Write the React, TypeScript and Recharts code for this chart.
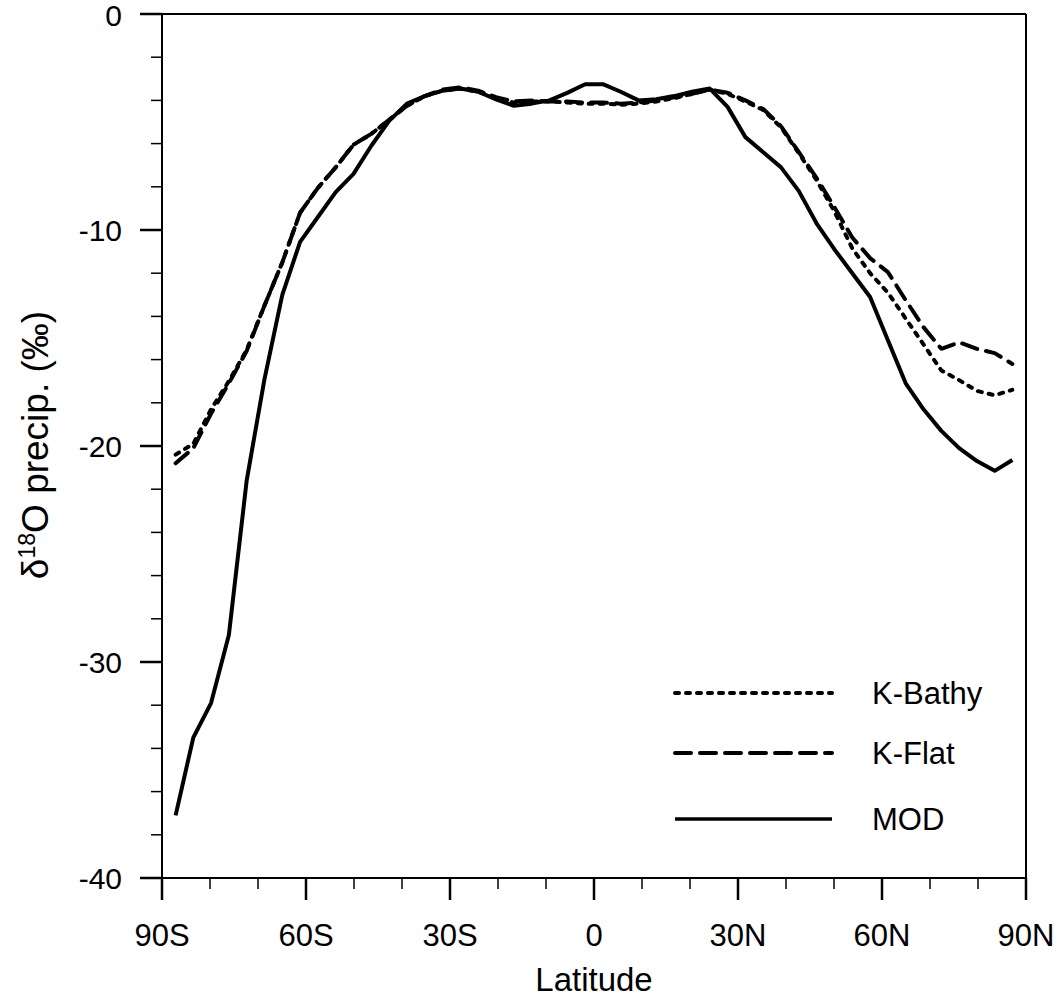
import React from 'react';
import { LineChart, Line, XAxis, YAxis, ReferenceLine, Legend } from 'recharts';

// T31 gaussian latitudes
const lats = [
  -87.16, -83.48, -79.78, -76.07, -72.36, -68.65, -64.94, -61.23, -57.52, -53.81, -50.1, -46.39,
  -42.68, -38.97, -35.26, -31.54, -27.83, -24.12, -20.41, -16.7, -12.99, -9.28, -5.57, -1.86,
  1.86, 5.57, 9.28, 12.99, 16.7, 20.41, 24.12, 27.83, 31.54, 35.26, 38.97, 42.68,
  46.39, 50.1, 53.81, 57.52, 61.23, 64.94, 68.65, 72.36, 76.07, 79.78, 83.48, 87.16,
];

const kBathy = [
  -20.4, -19.9, -18.3, -17.0, -15.55, -13.5, -11.5, -9.2, -8.05, -7.1, -6.05, -5.55,
  -4.9, -4.25, -3.8, -3.55, -3.45, -3.6, -3.9, -4.1, -4.05, -4.05, -4.1, -4.15,
  -4.15, -4.2, -4.15, -4.05, -3.9, -3.7, -3.5, -3.7, -4.05, -4.45, -5.25, -6.45,
  -7.7, -9.15, -10.85, -12.0, -12.9, -14.1, -15.3, -16.5, -16.95, -17.45, -17.65, -17.4,
];

const kFlat = [
  -20.8, -20.1, -18.5, -17.1, -15.6, -13.5, -11.5, -9.2, -8.05, -7.1, -6.05, -5.55,
  -4.9, -4.25, -3.8, -3.5, -3.4, -3.55, -3.85, -4.05, -4.0, -4.05, -4.05, -4.1,
  -4.1, -4.15, -4.1, -4.0, -3.85, -3.7, -3.5, -3.65, -4.0, -4.4, -5.2, -6.4,
  -7.6, -8.95, -10.35, -11.3, -11.95, -13.25, -14.5, -15.5, -15.2, -15.5, -15.7, -16.2,
];

const mod = [
  -37.1, -33.5, -31.9, -28.75, -21.6, -16.9, -13.0, -10.55, -9.4, -8.25, -7.4, -6.1,
  -4.95, -4.15, -3.8, -3.55, -3.45, -3.6, -3.95, -4.25, -4.15, -4.0, -3.65, -3.25,
  -3.25, -3.6, -4.0, -3.95, -3.8, -3.6, -3.45, -4.3, -5.7, -6.4, -7.1, -8.2,
  -9.7, -10.9, -12.0, -13.1, -15.1, -17.1, -18.3, -19.3, -20.1, -20.7, -21.15, -20.65,
];

const xTicks = [-90, -80, -70, -60, -50, -40, -30, -20, -10, 0, 10, 20, 30, 40, 50, 60, 70, 80, 90];
const xTickLabels: Record<number, string> = {
  [-90]: '90S', [-60]: '60S', [-30]: '30S', 0: '0', 30: '30N', 60: '60N', 90: '90N',
};
const yTicks = [-40, -38, -36, -34, -32, -30, -28, -26, -24, -22, -20, -18, -16, -14, -12, -10, -8, -6, -4, -2, 0];

const series = [
  { key: 'bathy', name: 'K-Bathy', dash: '4 7' },
  { key: 'flat', name: 'K-Flat', dash: '16 9' },
  { key: 'mod', name: 'MOD', dash: undefined },
];

const data = lats.map((lat, i) => ({ lat, bathy: kBathy[i], flat: kFlat[i], mod: mod[i] }));

const FONT = '"Liberation Sans", Arial, sans-serif';

const XTick = (props: any) => {
  const { x, y, payload } = props;
  const v = payload.value;
  const major = v % 30 === 0;
  return (
    <g>
      <line x1={x} x2={x} y1={y} y2={y + (major ? 22 : 11)} stroke="#000" strokeWidth={major ? 2.5 : 1.5} />
      {major && (
        <text x={x} y={y + 57} textAnchor="middle" dominantBaseline="central" fontFamily={FONT} fontSize={31} fill="#000">
          {xTickLabels[v]}
        </text>
      )}
    </g>
  );
};

const YTick = (props: any) => {
  const { x, y, payload } = props;
  const v = payload.value;
  const major = v % 10 === 0;
  return (
    <g>
      <line x1={x} x2={x - (major ? 22 : 11)} y1={y} y2={y} stroke="#000" strokeWidth={major ? 2.5 : 1.5} />
      {major && (
        <text x={x - 40} y={v === 0 ? y + 1 : y} textAnchor="end" dominantBaseline="central" fontFamily={FONT} fontSize={30} fill="#000">
          {v}
        </text>
      )}
    </g>
  );
};

const YLabel = () => (
  <text x={48} y={445} transform="rotate(-90, 48, 445)" textAnchor="middle" fontFamily={FONT} fontSize={37} fill="#000">
    δ<tspan fontSize={23} dy={-13}>18</tspan>
    <tspan dy={13}>O precip. (‰)</tspan>
  </text>
);

const XLabel = () => (
  <text x={594} y={991} textAnchor="middle" fontFamily={FONT} fontSize={33} fill="#000">
    Latitude
  </text>
);

const LegendBox = () => (
  <svg width={360} height={180}>
    {series.map((s, i) => {
      const yy = [33, 93, 159][i];
      return (
        <g key={s.key}>
          <line x1={15} x2={172} y1={yy} y2={yy} stroke="#000" strokeWidth={s.dash ? 4 : 3.5} strokeDasharray={s.dash} strokeLinecap={s.dash ? 'round' : 'butt'} />
          <text x={212} y={yy} dominantBaseline="central" fontFamily={FONT} fontSize={31} fill="#000">
            {s.name}
          </text>
        </g>
      );
    })}
  </svg>
);

export default function App() {
  return (
    <div style={{ position: 'absolute', left: 0, top: 0, background: '#fff' }}>
      <LineChart width={1060} height={999} data={data} margin={{ top: 14, right: 34, bottom: 61, left: 82 }}>
        <XAxis
          dataKey="lat"
          type="number"
          domain={[-90, 90]}
          ticks={xTicks}
          interval={0}
          tickSize={0}
          tickMargin={0}
          tick={<XTick />}
          axisLine={{ stroke: '#000', strokeWidth: 2 }}
          height={60}
          label={<XLabel />}
        />
        <YAxis
          type="number"
          domain={[-40, 0]}
          ticks={yTicks}
          interval={0}
          tickSize={0}
          tickMargin={0}
          tick={<YTick />}
          axisLine={{ stroke: '#000', strokeWidth: 2 }}
          width={80}
          label={<YLabel />}
        />
        <ReferenceLine y={0} stroke="#000" strokeWidth={2} />
        <ReferenceLine x={90} stroke="#000" strokeWidth={2} />
        {series.map((s) => (
          <Line
            key={s.key}
            dataKey={s.key}
            name={s.name}
            type="linear"
            stroke="#000"
            strokeWidth={4}
            strokeDasharray={s.dash}
            strokeLinecap={s.dash ? 'round' : 'butt'}
            strokeLinejoin="round"
            dot={false}
            activeDot={false}
            isAnimationActive={false}
          />
        ))}
        <Legend
          layout="vertical"
          align="center"
          verticalAlign="middle"
          content={<LegendBox />}
          wrapperStyle={{ left: 660, top: 660, width: 360, height: 180 }}
        />
      </LineChart>
    </div>
  );
}
